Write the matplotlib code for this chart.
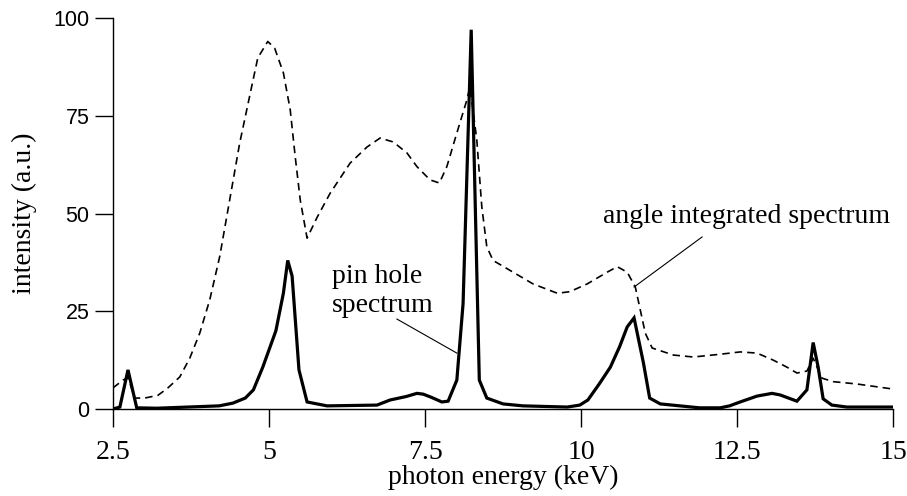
import matplotlib

matplotlib.use('Agg')

import matplotlib.pyplot as plt

# pin hole spectrum (solid)
pin_energy = [2.5, 2.61, 2.74, 2.88, 3.2, 4.2, 4.42, 4.62, 4.75, 4.9, 5.11, 5.23, 5.3, 5.37,
              5.48, 5.61, 5.93, 6.73, 6.94, 7.2, 7.37, 7.47, 7.6, 7.77, 7.87, 8.01, 8.11, 8.24,
              8.37, 8.49, 8.75, 9.07, 9.78, 9.98, 10.11, 10.3, 10.47, 10.62, 10.74, 10.85,
              11.0, 11.1, 11.27, 11.9, 12.23, 12.38, 12.55, 12.82, 13.06, 13.19, 13.46, 13.62,
              13.72, 13.8, 13.88, 14.02, 14.26, 15.0]
pin_intensity = [0, 0.5, 10, 0.3, 0.2, 0.8, 1.5, 2.8, 4.9, 10.7, 20, 29.6, 38, 34,
                 10, 1.8, 0.8, 1, 2.3, 3.2, 4, 3.8, 3, 1.8, 2, 7.4, 27, 97,
                 7.4, 2.8, 1.3, 0.8, 0.5, 1, 2.3, 6.6, 10.7, 16, 21, 23.3,
                 11.8, 2.8, 1.3, 0.3, 0.3, 0.8, 1.8, 3.3, 4, 3.6, 2, 4.9,
                 17, 10.7, 2.6, 1, 0.5, 0.5]

# angle integrated spectrum (dashed)
ang_energy = [2.5, 2.66, 2.74, 2.85, 3.01, 3.22, 3.38, 3.57, 3.73, 3.89, 4.05, 4.21, 4.37,
              4.53, 4.7, 4.82, 4.98, 5.09, 5.23, 5.34, 5.42, 5.5, 5.61, 5.77, 5.98, 6.3,
              6.57, 6.78, 6.99, 7.21, 7.37, 7.58, 7.73, 7.85, 8.01, 8.17, 8.22, 8.33, 8.41,
              8.49, 8.59, 8.91, 9.23, 9.62, 9.82, 10.1, 10.42, 10.58, 10.74, 10.87, 10.95,
              11.03, 11.14, 11.48, 11.8, 12.23, 12.55, 12.82, 13.08, 13.3, 13.46, 13.62,
              13.72, 13.86, 14.04, 14.42, 15.0]
ang_intensity = [5.4, 7.4, 8, 2.8, 2.8, 3.5, 5.4, 8.2, 13, 19.4, 27.9, 39, 53.5,
                 68, 80.8, 89.8, 94, 92.3, 86, 76.5, 64.5, 53.5, 43.7, 49, 55.2, 62.9,
                 67, 69.3, 68.3, 65.5, 62, 58.6, 57.8, 62, 70.6, 79, 82.4, 68.8, 51.7,
                 41.5, 38, 35, 32, 29.6, 30, 32, 35, 36.4, 35, 31.2, 25.3,
                 19.4, 15.6, 13.8, 13.3, 14, 14.6, 14.3, 12.5, 10.7, 9.2, 9.7,
                 13, 7.9, 7, 6.4, 5.1]

x_ticks = [2.5, 5, 7.5, 10, 12.5, 15]
x_tick_labels = ['2.5', '5', '7.5', '10', '12.5', '15']
y_ticks = [0, 25, 50, 75, 100]

serif = 'Liberation Serif'
sans = 'Liberation Sans'

fig = plt.figure(figsize=(9.07, 4.96), dpi=100)
ax = fig.add_axes([0.1246, 0.1754, 0.86, 0.7883])

ax.plot(ang_energy, ang_intensity, color='black', lw=1.2, ls=(0, (4.5, 3)))
ax.plot(pin_energy, pin_intensity, color='black', lw=2.3, solid_joinstyle='miter')

ax.set_xlim(2.5, 15)
ax.set_ylim(0, 100)
ax.set_xticks(x_ticks)
ax.set_xticklabels(x_tick_labels, family=serif, fontsize=20)
ax.set_yticks(y_ticks)
ax.set_yticklabels([str(v) for v in y_ticks], family=sans, fontsize=15.5)
for spine in ('top', 'right'):
    ax.spines[spine].set_visible(False)
for spine in ('left', 'bottom'):
    ax.spines[spine].set_linewidth(1.0)
ax.tick_params(direction='out', length=13, width=1.0)
ax.tick_params(axis='x', pad=9)
ax.tick_params(axis='y', pad=4)

ax.set_xlabel('photon energy (keV)', fontsize=20, family=serif, labelpad=0)
ax.set_ylabel('intensity (a.u.)', fontsize=20, family=serif, labelpad=12)

ax.text(10.35, 47.6, 'angle integrated spectrum', fontsize=20, family=serif,
        ha='left', va='baseline')
ax.plot([11.94, 10.85], [44, 31.2], color='black', lw=0.8)

ax.text(6.01, 32.2, 'pin hole', fontsize=20, family=serif, ha='left', va='baseline')
ax.text(6.01, 24.8, 'spectrum', fontsize=20, family=serif, ha='left', va='baseline')
ax.plot([7.05, 8.01], [23.0, 14.3], color='black', lw=0.8)

fig.savefig('out.png', dpi=100)
